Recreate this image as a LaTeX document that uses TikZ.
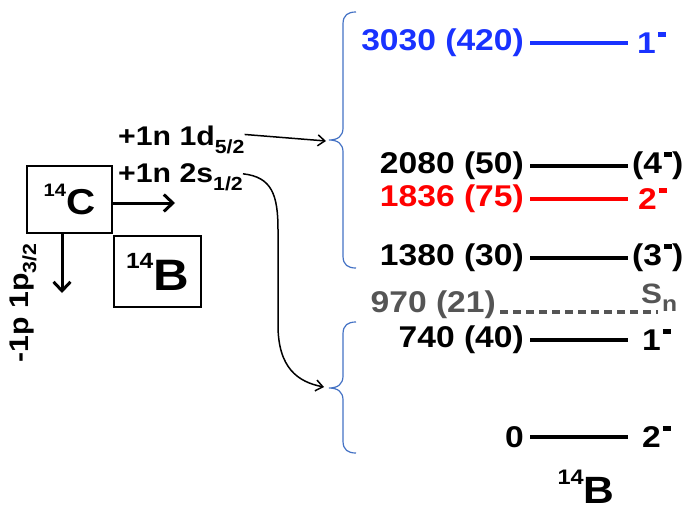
\documentclass[tikz,border=0pt]{standalone}
\usepackage{fontspec}
\setmainfont{Liberation Sans}[FakeStretch=1.12]
\newfontfamily\plainsans{Liberation Sans}
\usetikzlibrary{positioning,arrows.meta}

\definecolor{lvblue}{RGB}{25,50,255}
\definecolor{lvred}{RGB}{255,0,0}
\definecolor{lvgray}{RGB}{85,85,85}
\definecolor{brblue}{RGB}{68,114,196}

\newcommand{\mns}{\kern2pt\rule[17pt]{8pt}{4.5pt}}
\newcommand{\subs}[1]{\raisebox{-0.3em}{\fontsize{19}{19}\selectfont #1}}
\newcommand{\nuc}[3]{\raisebox{0.5em}{\fontsize{#3}{#3}\selectfont #1}#2}

\tikzset{
	elab/.style={inner sep=0pt, font=\bfseries\fontsize{30}{36}\selectfont},
	jlab/.style={inner sep=0pt, anchor=west, font=\bfseries\fontsize{30}{36}\selectfont},
	level/.style={line width=3.6pt},
	trlab/.style={inner sep=0pt, font=\bfseries\fontsize{27}{30}\selectfont},
	nucbox/.style={draw, line width=2pt, inner sep=0pt},
	bigarr/.style={line width=3pt, -{Straight Barb[length=9pt,width=17pt]}},
	thinarr/.style={line width=1.5pt, -{Straight Barb[length=7pt,width=11pt]}},
	brc/.style={draw=brblue, line width=1.2pt}
}

\begin{document}
\begin{tikzpicture}[x=1pt, y=-1pt]
	\useasboundingbox (0,0) rectangle (684,511);
	
	% --- niveaux de 14B ---
	\foreach \nm/\y/\en/\jp/\col/\jx in {
		l3030/43/3030 (420)/1\mns/lvblue/9,
		l2080/166/2080 (50)/(4\mns)/black/4,
		l1836/199/1836 (75)/2\mns/lvred/10,
		l1380/258/1380 (30)/(3\mns)/black/4,
		l740/340/740 (40)/1\mns/black/14,
		l0/437/0/2\mns/black/14} {
		\coordinate (a\nm) at (530,\y);
		\coordinate (b\nm) at (628,\y);
		\draw[level, draw=\col] (a\nm) -- (b\nm);
		\node[elab, text=\col, left=6pt of a\nm] (e\nm) {\en};
		\node[jlab, text=\col] (j\nm) at ([xshift=\jx pt]b\nm) {\jp};
	}
	
	% --- seuil Sn ---
	\coordinate (sna) at (500,312);
	\coordinate (snb) at (658,312);
	\draw[line width=3.4pt, lvgray, dash pattern=on 8pt off 5pt] (sna) -- (snb);
	\node[elab, text=lvgray, anchor=east] (e970) at (496,305) {970 (21)};
	\node[inner sep=0pt, anchor=base west, text=lvgray, font=\bfseries\fontsize{28}{30}\selectfont] (sn) at (641,303) {S\raisebox{-0.3em}{\fontsize{22}{22}\selectfont n}};
	
	\node[inner sep=0pt, anchor=base, font=\bfseries\fontsize{38}{42}\selectfont] (bot) at (586,503) {\nuc{14}{B}{21}};
	
	% --- accolades (haut, pointe, bas) ---
	\foreach \t/\m/\b in {12/140/268, 322/388/453} {
		\draw[brc] (356,\t) .. controls (348,\t) and (343,\t+3) .. (343,\t+12)
			-- (343,\m-12) .. controls (343,\m-4) and (338,\m) .. (329,\m)
			.. controls (338,\m) and (343,\m+4) .. (343,\m+12)
			-- (343,\b-12) .. controls (343,\b-3) and (348,\b) .. (356,\b);
	}
	\coordinate (tipU) at (326,141);
	\coordinate (tipL) at (324,387);
	
	% --- noyaux ---
	\node[nucbox, minimum width=85pt, minimum height=67pt, font=\bfseries\fontsize{36}{40}\selectfont] (C) at (69.5,199.5) {\nuc{14}{C}{18}};
	\node[nucbox, minimum width=87pt, minimum height=71pt, font=\bfseries\fontsize{44}{48}\selectfont] (B) at (157.5,271.5) {\nuc{14}{B}{22}};
	\coordinate (cr) at (175,203);
	\coordinate (cd) at (62,293);
	\draw[bigarr] (C.east |- cr) -- (cr);
	\draw[bigarr] (C.south -| cd) -- (cd);
	
	% --- transferts ---
	\node[trlab, anchor=base west] (n1d) at (118,145) {+1n 1d\subs{5/2}};
	\node[trlab, anchor=base west] (n2s) at (118,182) {+1n 2s\subs{1/2}};
	\node[trlab, anchor=base, rotate=90] (p32) at (28,303) {\scalebox{1.12}[1]{\plainsans -1p 1p\subs{3/2}}};
	
	\draw[thinarr] ([yshift=5pt]n1d.east) -- (tipU);
	\draw[thinarr] ([yshift=3pt]n2s.east) .. controls (272,177) and (278,195) .. (278,230) -- (278,325) .. controls (278,368) and (298,382) .. (tipL);
\end{tikzpicture}
\end{document}
